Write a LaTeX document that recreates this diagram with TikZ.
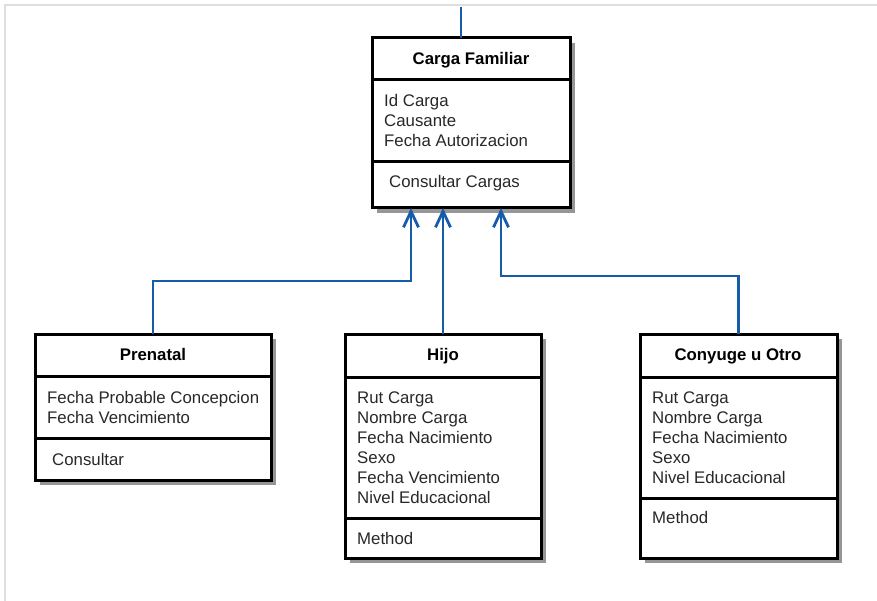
\documentclass[tikz,border=0pt]{standalone}
\usepackage{fontspec}
\setmainfont{Liberation Sans}
\usetikzlibrary{arrows.meta,shadows}
\definecolor{linkblue}{RGB}{22,92,168}
\definecolor{framegray}{RGB}{222,222,222}
\definecolor{shadowgray}{RGB}{150,150,150}
\definecolor{textgray}{RGB}{40,40,40}
\begin{document}
\begin{tikzpicture}[x=1pt,y=-1pt,
  umlbox/.style={draw=black,line width=3pt,fill=white,inner sep=0pt,outer sep=0pt,
    anchor=north west,
    drop shadow={shadow xshift=5pt,shadow yshift=-5pt,fill=shadowgray,opacity=1}},
  divider/.style={draw=black,line width=3pt},
  title/.style={font=\fontsize{16.8}{20}\selectfont\bfseries,text=black,inner sep=0pt,anchor=base},
  attr/.style={font=\fontsize{16.8}{20}\selectfont,text=textgray,inner sep=0pt,anchor=base west},
  assoc/.style={draw=linkblue,line width=2.8pt,-{Straight Barb[length=16pt,width=15pt]}},
  plain/.style={draw=linkblue,line width=2.8pt},
  frame/.style={draw=framegray,line width=2.5pt}]
\useasboundingbox (0,0) rectangle (877,601);

% outer frame
\draw[frame] (4,5) -- (877,5);
\draw[frame] (5,5) -- (5,601);

% Carga Familiar
\node[umlbox,minimum width=198pt,minimum height=170pt] (cf) at (372,38) {};
\draw[divider] ([yshift=-42pt]cf.north west) -- ([yshift=-42pt]cf.north east);
\draw[divider] ([yshift=-124pt]cf.north west) -- ([yshift=-124pt]cf.north east);
\node[title] (cft) at (471,65) {Carga Familiar};
\node[attr] (cfa1) at (384,107) {Id Carga};
\node[attr] (cfa2) at (384,127) {Causante};
\node[attr] (cfa3) at (384,147) {Fecha Autorizacion};
\node[attr] (cfm1) at (389,188) {Consultar Cargas};

% Prenatal
\node[umlbox,minimum width=236pt,minimum height=146pt] (pre) at (35,334) {};
\draw[divider] ([yshift=-42pt]pre.north west) -- ([yshift=-42pt]pre.north east);
\draw[divider] ([yshift=-104pt]pre.north west) -- ([yshift=-104pt]pre.north east);
\node[title] (pret) at (153,360) {Prenatal};
\node[attr] (prea1) at (47,403) {Fecha Probable Concepcion};
\node[attr] (prea2) at (47,423) {Fecha Vencimiento};
\node[attr] (prem1) at (52,465) {Consultar};

% Hijo
\node[umlbox,minimum width=196pt,minimum height=224pt] (hijo) at (345,334) {};
\draw[divider] ([yshift=-43pt]hijo.north west) -- ([yshift=-43pt]hijo.north east);
\draw[divider] ([yshift=-184pt]hijo.north west) -- ([yshift=-184pt]hijo.north east);
\node[title] (hijot) at (443,360) {Hijo};
\node[attr] (hijoa1) at (357,403) {Rut Carga};
\node[attr] (hijoa2) at (357,423) {Nombre Carga};
\node[attr] (hijoa3) at (357,443) {Fecha Nacimiento};
\node[attr] (hijoa4) at (357,463) {Sexo};
\node[attr] (hijoa5) at (357,483) {Fecha Vencimiento};
\node[attr] (hijoa6) at (357,503) {Nivel Educacional};
\node[attr] (hijom1) at (357,544) {Method};

% Conyuge u Otro
\node[umlbox,minimum width=197pt,minimum height=224pt] (cy) at (640,334) {};
\draw[divider] ([yshift=-43pt]cy.north west) -- ([yshift=-43pt]cy.north east);
\draw[divider] ([yshift=-164pt]cy.north west) -- ([yshift=-164pt]cy.north east);
\node[title] (cyt) at (738,360) {Conyuge u Otro};
\node[attr] (cya1) at (652,403) {Rut Carga};
\node[attr] (cya2) at (652,423) {Nombre Carga};
\node[attr] (cya3) at (652,443) {Fecha Nacimiento};
\node[attr] (cya4) at (652,463) {Sexo};
\node[attr] (cya5) at (652,483) {Nivel Educacional};
\node[attr] (cym1) at (652,523) {Method};

% connectors
\coordinate (up) at (461,7);
\draw[plain] (up) -- (up |- cf.north);
\coordinate (k1) at (411,281);
\draw[assoc] (pre.north) |- (k1) -- (k1 |- cf.south);
\draw[assoc] (hijo.north) -- (hijo.north |- cf.south);
\coordinate (k3) at (501,276);
\draw[assoc] (cy.north) |- (k3) -- (k3 |- cf.south);
\end{tikzpicture}
\end{document}
